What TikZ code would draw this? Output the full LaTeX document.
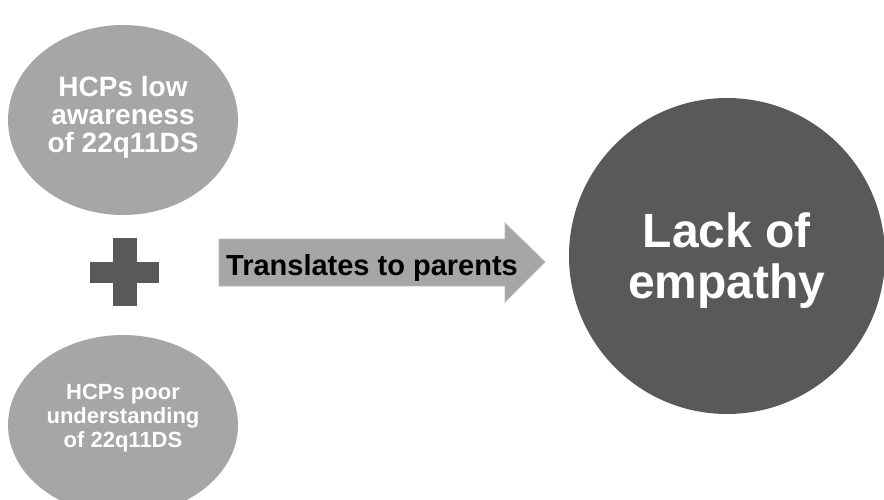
\documentclass[tikz,border=0pt]{standalone}
\usepackage{fontspec}
\setmainfont{Liberation Sans}
\usetikzlibrary{shapes.geometric}
\definecolor{lightg}{HTML}{A6A6A6}
\definecolor{darkg}{HTML}{595959}
\begin{document}
\begin{tikzpicture}[x=1pt,y=-1pt,
  blob/.style={ellipse,fill=lightg,draw=none,inner sep=0pt},
  big/.style={circle,fill=darkg,draw=none,inner sep=0pt},
  lbl/.style={text=white,align=center,inner sep=0pt}]
\useasboundingbox (0,0) rectangle (884,500);
\begin{scope}
\clip (0,0) rectangle (884,500);
% top ellipse
\node[blob,minimum width=230pt,minimum height=190pt] (aware) at (123,120) {};
\node[lbl,font=\bfseries\fontsize{28}{28}\selectfont] (awaretxt) at (123,117.5)
  {HCPs low\\awareness\\of 22q11DS};
% bottom ellipse
\node[blob,minimum width=230pt,minimum height=180pt] (under) at (123,425) {};
\node[lbl,font=\bfseries\fontsize{22}{24}\selectfont] (undertxt) at (123,418.5)
  {HCPs poor\\understanding\\of 22q11DS};
% plus sign
\fill[darkg] (90,262) rectangle (159,283);
\fill[darkg] (113,238) rectangle (137,306);
% arrow
\coordinate (a1) at (219,239);
\coordinate (a2) at (505,239);
\coordinate (a3) at (505,223);
\coordinate (tip) at (545,262);
\coordinate (a5) at (505,302);
\coordinate (a6) at (505,286);
\coordinate (a7) at (219,286);
\filldraw[fill=lightg,draw=lightg!80!white,line width=0.8pt]
  (a1) -- (a2) -- (a3) -- (tip) -- (a5) -- (a6) -- (a7) -- cycle;
\node[font=\bfseries\fontsize{29}{32}\selectfont,text=black,inner sep=0pt,anchor=base]
  (trans) at (372,275) {Translates to parents};
% big circle
\node[big,minimum size=316pt] (lack) at (727,256) {};
\node[lbl,font=\bfseries\fontsize{48}{51}\selectfont] (lacktxt) at (727,260.5)
  {Lack of\\empathy};
\end{scope}
\end{tikzpicture}
\end{document}
